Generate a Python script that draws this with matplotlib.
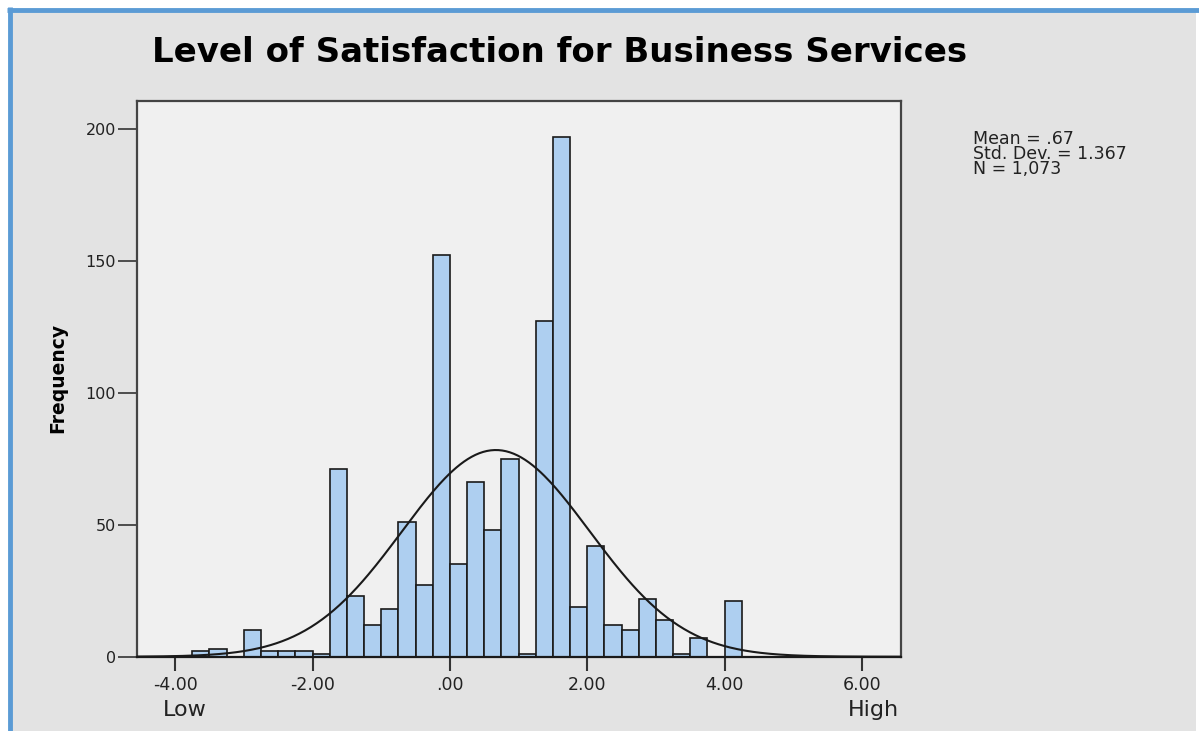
import numpy as np
import matplotlib.pyplot as plt
from matplotlib.patches import Rectangle
from matplotlib.lines import Line2D

# histogram bins (width .25) and counts
bin_left = np.arange(-3.75, 4.25, 0.25)
counts = [2, 3, 0, 10, 2, 2, 2, 1, 71, 23, 12, 18, 51, 27, 152, 35,
          66, 48, 75, 1, 127, 197, 19, 42, 12, 10, 22, 14, 1, 7, 0, 21]
bin_width = 0.25

mean = 0.67
std_dev = 1.367
n_total = 1073

x_ticks = [-4, -2, 0, 2, 4, 6]
x_tick_labels = ['-4.00', '-2.00', '.00', '2.00', '4.00', '6.00']
y_ticks = [0, 50, 100, 150, 200]

W, H = 1199, 731
fig = plt.figure(figsize=(W / 100, H / 100), dpi=100, facecolor='white')

# grey panel with blue frame at top and left
fig.patches.append(Rectangle((10 / W, 0), (1196 - 10) / W, 1 - 10 / H,
                             transform=fig.transFigure, facecolor='#e3e3e3',
                             edgecolor='none', zorder=-3))
fig.lines.append(Line2D([9.5 / W, 9.5 / W], [0, 1 - 7 / H], transform=fig.transFigure,
                        color='#5b9bd5', lw=3.5, solid_capstyle='butt', zorder=-2))
fig.lines.append(Line2D([7 / W, 1], [1 - 9.5 / H, 1 - 9.5 / H], transform=fig.transFigure,
                        color='#5b9bd5', lw=3.5, solid_capstyle='butt', zorder=-2))

ax = fig.add_axes([136.7 / W, 1 - 656.7 / H, (900.7 - 136.7) / W, (656.7 - 101) / H])
ax.set_facecolor('#f0f0f0')

ax.bar(bin_left, counts, width=bin_width, align='edge', color='#aecff0',
       edgecolor='#1a1a1a', linewidth=1.2, zorder=2)

# fitted normal curve
xs = np.linspace(-4.56, 6.56, 400)
ys = n_total * bin_width / (std_dev * np.sqrt(2 * np.pi)) * np.exp(-0.5 * ((xs - mean) / std_dev) ** 2)
ax.plot(xs, ys, color='#1a1a1a', lw=1.5, zorder=3)

ax.set_xlim(-4.56, 6.565)
ax.set_ylim(0, 210.5)
ax.set_xticks(x_ticks)
ax.set_xticklabels(x_tick_labels)
ax.set_yticks(y_ticks)

for s in ax.spines.values():
    s.set_color('#444444')
    s.set_linewidth(1.6)
ax.spines['bottom'].set_color('#1a1a1a')

ax.tick_params(axis='x', direction='out', length=10, width=1.5, color='#333333',
               labelsize=12.5, labelcolor='#222222', pad=4)
ax.tick_params(axis='y', direction='out', length=14, width=1.2, color='#333333',
               labelsize=11.5, labelcolor='#222222', pad=1)

fig.text(58 / W, 1 - 378 / H, 'Frequency', rotation=90, ha='center', va='center',
         fontweight='bold', fontsize=13.5, color='black')

fig.text(560 / W, 1 - 53 / H, 'Level of Satisfaction for Business Services',
         ha='center', va='center', fontsize=24.5, fontweight='bold', color='black')
fig.text(185 / W, 1 - 710 / H, 'Low', ha='center', va='center', fontsize=16,
         color='#222222')
fig.text(873 / W, 1 - 710 / H, 'High', ha='center', va='center', fontsize=16,
         color='#222222')
fig.text(973 / W, 1 - 130 / H,
         'Mean = .67\nStd. Dev. = 1.367\nN = 1,073',
         ha='left', va='top', fontsize=12.5, color='#222222', linespacing=0.78)

fig.savefig('out.png', dpi=100, facecolor=fig.get_facecolor())
